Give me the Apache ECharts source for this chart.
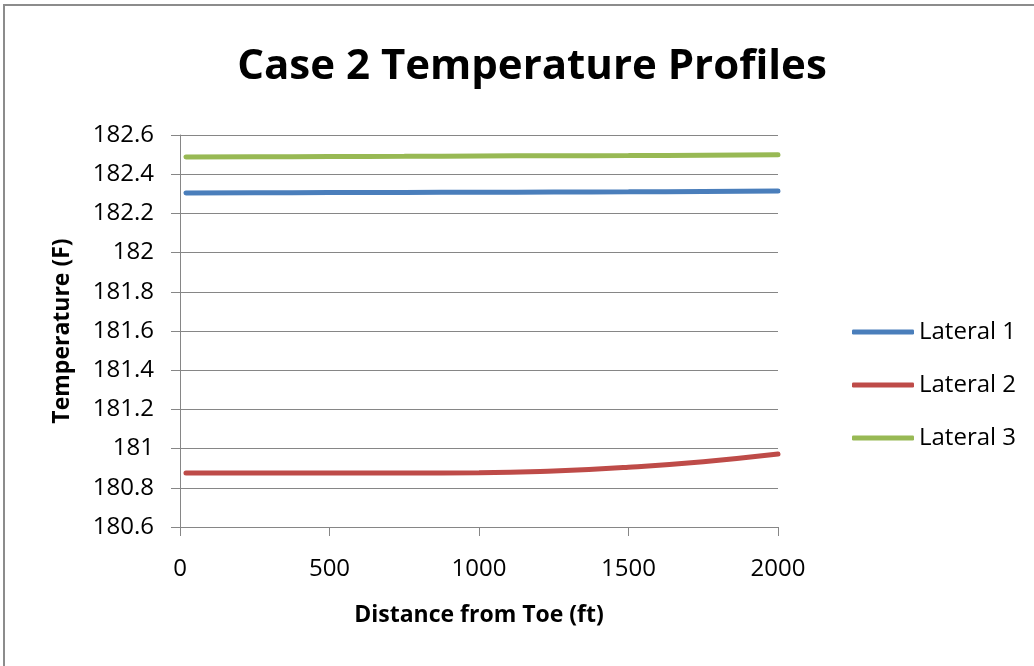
<!DOCTYPE html>
<html>
<head>
<meta charset="utf-8">
<script src="https://cdn.jsdelivr.net/npm/echarts@6/dist/echarts.min.js"></script>
<style>
html,body{margin:0;padding:0;background:#fff;}
#c{width:1034px;height:666px;}
</style>
</head>
<body>
<div id="c"></div>
<script>
const distance = [20, 250, 500, 750, 1000, 1250, 1500, 1750, 2000];
const lateral1 = [182.304, 182.305, 182.306, 182.307, 182.308, 182.309, 182.310, 182.312, 182.314];
const lateral2 = [180.876, 180.876, 180.876, 180.876, 180.877, 180.886, 180.905, 180.933, 180.972];
const lateral3 = [182.488, 182.489, 182.490, 182.491, 182.493, 182.494, 182.495, 182.497, 182.499];
const seriesNames = ['Lateral 1', 'Lateral 2', 'Lateral 3'];
const seriesColors = ['#4A7EBB', '#BE4B48', '#98B954'];

const FONT = "'Open Sans', 'Liberation Sans', sans-serif";
const chart = echarts.init(document.getElementById('c'), null, {renderer: 'canvas'});

function pairs(ys) { return distance.map((x, i) => [x, ys[i]]); }
const allData = [lateral1, lateral2, lateral3];

chart.setOption({
  animation: false,
  backgroundColor: '#fff',
  graphic: [{
    type: 'rect', shape: {x: 4, y: 5, width: 1060, height: 700},
    style: {fill: 'none', stroke: '#8c8c8c', lineWidth: 2}, silent: true, z: -1
  }],
  title: {
    text: 'Case 2 Temperature Profiles',
    left: 527, top: 41, textAlign: 'center',
    textStyle: {fontFamily: FONT, fontWeight: 'bold', fontSize: 42, color: '#000'}
  },
  legend: {
    orient: 'vertical', left: 847, top: 315, itemGap: 29,
    icon: 'roundRect', itemWidth: 62, itemHeight: 5,
    textStyle: {fontFamily: FONT, fontSize: 24, color: '#000', padding: [0, 0, 0, 0]},
    data: seriesNames
  },
  grid: {left: 180, right: 256, top: 135, bottom: 139, containLabel: false},
  xAxis: {
    type: 'value', min: 0, max: 2000, interval: 500,
    name: 'Distance from Toe (ft)', nameLocation: 'middle', nameGap: 77,
    nameTextStyle: {fontFamily: FONT, fontWeight: 'bold', fontSize: 23, color: '#000'},
    axisLine: {show: true, onZero: false, lineStyle: {color: '#868686', width: 1}},
    axisTick: {show: true, length: 9, inside: false, lineStyle: {color: '#868686'}},
    axisLabel: {fontFamily: FONT, fontSize: 24, color: '#000', margin: 30,
      formatter: v => String(v)},
    splitLine: {show: false}
  },
  yAxis: {
    type: 'value', min: 180.6, max: 182.6, interval: 0.2,
    name: 'Temperature (F)', nameLocation: 'middle', nameGap: 106,
    nameTextStyle: {fontFamily: FONT, fontWeight: 'bold', fontSize: 23, color: '#000'},
    axisLine: {show: true, lineStyle: {color: '#868686', width: 1}},
    axisTick: {show: true, length: 9, lineStyle: {color: '#868686'}},
    axisLabel: {fontFamily: FONT, fontSize: 24, color: '#000', margin: 26,
      formatter: v => String(+v.toFixed(1))},
    splitLine: {show: true, lineStyle: {color: '#868686', width: 1}}
  },
  series: seriesNames.map((n, i) => ({
    name: n, type: 'line', data: pairs(allData[i]), smooth: true,
    showSymbol: false, symbol: 'none',
    lineStyle: {color: seriesColors[i], width: 5, cap: 'round'},
    itemStyle: {color: seriesColors[i]}
  }))
});
</script>
</body>
</html>
